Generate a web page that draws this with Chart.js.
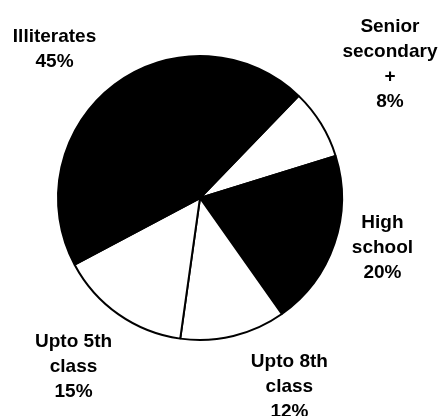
<!DOCTYPE html>
<html>
<head>
<meta charset="utf-8">
<script src="https://cdn.jsdelivr.net/npm/chart.js@4"></script>
<style>
  html, body { margin: 0; padding: 0; background: #fff; }
  #wrap { width: 445px; height: 416px; }
</style>
</head>
<body>
<div id="wrap"><canvas id="myPie" width="445" height="416"></canvas></div>
<script>
// Slices, clockwise from the upper right
var labels = [["Senior", "secondary", "+"], ["High", "school"], ["Upto 8th", "class"], ["Upto 5th", "class"], ["Illiterates"]];
var shares = [8, 20, 12, 15, 45];
var fills = ["#ffffff", "#000000", "#ffffff", "#ffffff", "#000000"];

// label offsets from the arc edge at each slice's middle angle
var labelShift = [[69, -59], [48, 4], [56, 51], [-45, 52], [-60, -35]];

var sliceLabels = {
    id: 'sliceLabels',
    afterDraw: function (chart) {
        var ctx = chart.ctx;
        var arcs = chart.getDatasetMeta(0).data;
        ctx.save();
        ctx.fillStyle = '#000';
        ctx.font = 'bold 19px "Liberation Sans", Arial, sans-serif';
        ctx.textAlign = 'center';
        ctx.textBaseline = 'middle';
        var lineH = 25;
        arcs.forEach(function (arc, i) {
            var mid = (arc.startAngle + arc.endAngle) / 2;
            var x = arc.x + Math.cos(mid) * arc.outerRadius + labelShift[i][0];
            var y = arc.y + Math.sin(mid) * arc.outerRadius + labelShift[i][1];
            var lines = labels[i].concat([shares[i] + '%']);
            var top = y - (lines.length - 1) * lineH / 2;
            lines.forEach(function (t, k) {
                ctx.fillText(t, x, top + k * lineH);
            });
        });
        ctx.restore();
    }
};

var pie = document.getElementById("myPie");
var myPie = new Chart(pie, {
    type: 'pie',
    data: {
        labels: labels,
        datasets: [
            {
                data: shares,
                backgroundColor: fills,
                borderColor: "#000000",
                borderWidth: 2
            }
        ]
    },
    options: {
        responsive: false,
        animation: false,
        radius: 142,
        rotation: 44,
        layout: { padding: { left: 0, right: 45, top: 0, bottom: 20 } },
        plugins: {
            legend: { display: false },
            tooltip: { enabled: false }
        }
    },
    plugins: [sliceLabels]
});
</script>
</body>
</html>
